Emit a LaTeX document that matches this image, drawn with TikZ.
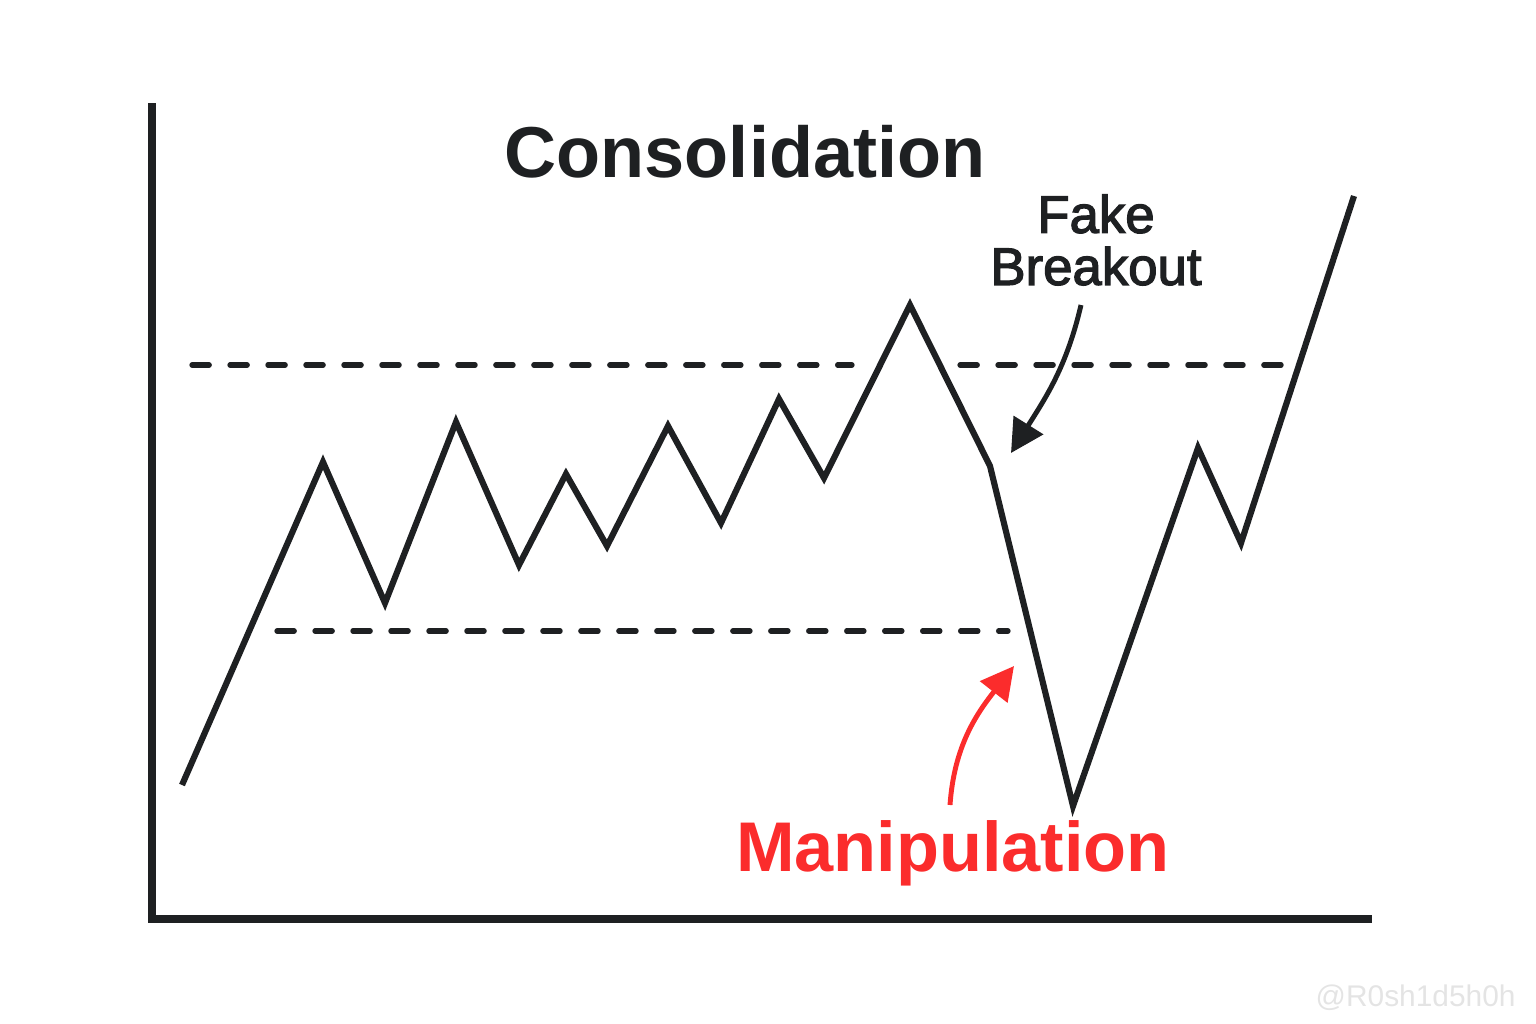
\documentclass[tikz,border=0pt]{standalone}
\usepackage{fontspec}
\setmainfont{Liberation Sans}
\newfontfamily\midfont[FakeBold=2.4]{Liberation Sans}
\usepackage{xcolor}
\definecolor{inkBlack}{HTML}{1E2022}
\definecolor{alertRed}{HTML}{FB2C2C}
\definecolor{markGray}{HTML}{E4E4E4}
\usetikzlibrary{arrows.meta, positioning}
\tikzset{
    % axes of the chart
    axis line/.style={
        line width=2pt,
        draw=inkBlack,
        line cap=rect,
    },
    % price path
    price/.style={
        line width=1.75pt,
        draw=inkBlack,
        line join=miter,
    },
    % range boundaries
    range line/.style={
        line width=1.5pt,
        draw=inkBlack,
        line cap=round,
        dash pattern=on 4.9pt off 5.9pt,
    },
    % callout arrows
    callout/.style={
        -{Triangle[length=3.3mm, width=3.4mm]},
        line width=1.4pt,
    },
    title text/.style={
        font=\fontsize{20.5}{24}\selectfont\bfseries,
        text=inkBlack,
    },
    note text/.style={
        font=\fontsize{15}{14.8}\selectfont\midfont,
        text=inkBlack,
        align=center,
    },
}

\begin{document}
\begin{tikzpicture}[x=0.01cm, y=-0.01cm]
    \useasboundingbox (0,0) rectangle (1536,1024);

    % axes
    \coordinate (top) at (152,107);
    \coordinate (origin) at (152,919);
    \coordinate (right) at (1368,919);
    \draw [axis line] (top) -- (origin) -- (right);

    % range lines
    \coordinate (hiA) at (192,365);
    \coordinate (hiB) at (852,365);
    \coordinate (hiC) at (960,365);
    \coordinate (hiD) at (1282,365);
    \coordinate (loA) at (277,631);
    \coordinate (loB) at (1008,631);
    \draw [range line] (hiA) -- (hiB);
    \draw [range line] (hiC) -- (hiD);
    \draw [range line] (loA) -- (loB);

    % price action
    \draw [price] (182,785) -- (323,462) -- (385,603) -- (456,422) -- (519,565)
        -- (566,474) -- (607,546) -- (668,426) -- (721,523) -- (779,399)
        -- (824,478) -- (910,305) -- (990,466) -- (1073,806) -- (1198,448)
        -- (1241,543) -- (1354,196);

    % labels
    \node (title) [title text] at (745,152) {Consolidation};
    \node (fake) [note text] at (1096,240) {Fake\\Breakout};
    \node (manip) [title text, text=alertRed, font=\fontsize{20}{24}\selectfont\bfseries] at (953,853) {Manipulation};
    \node (mark) [font=\fontsize{8.5}{10}\selectfont, text=markGray, anchor=east] at (1528,998) {@R0sh1d5h0h};

    % callouts
    \coordinate (fakeTail) at (1081,305);
    \coordinate (fakeTip) at (1011,453);
    \coordinate (manipTail) at (950,805);
    \coordinate (manipTip) at (1014,666);
    \draw [callout, draw=inkBlack] (fakeTail) to[out=-103, in=58] (fakeTip);
    \draw [callout, draw=alertRed] (manipTail) to[out=86, in=-128] (manipTip);
\end{tikzpicture}
\end{document}
